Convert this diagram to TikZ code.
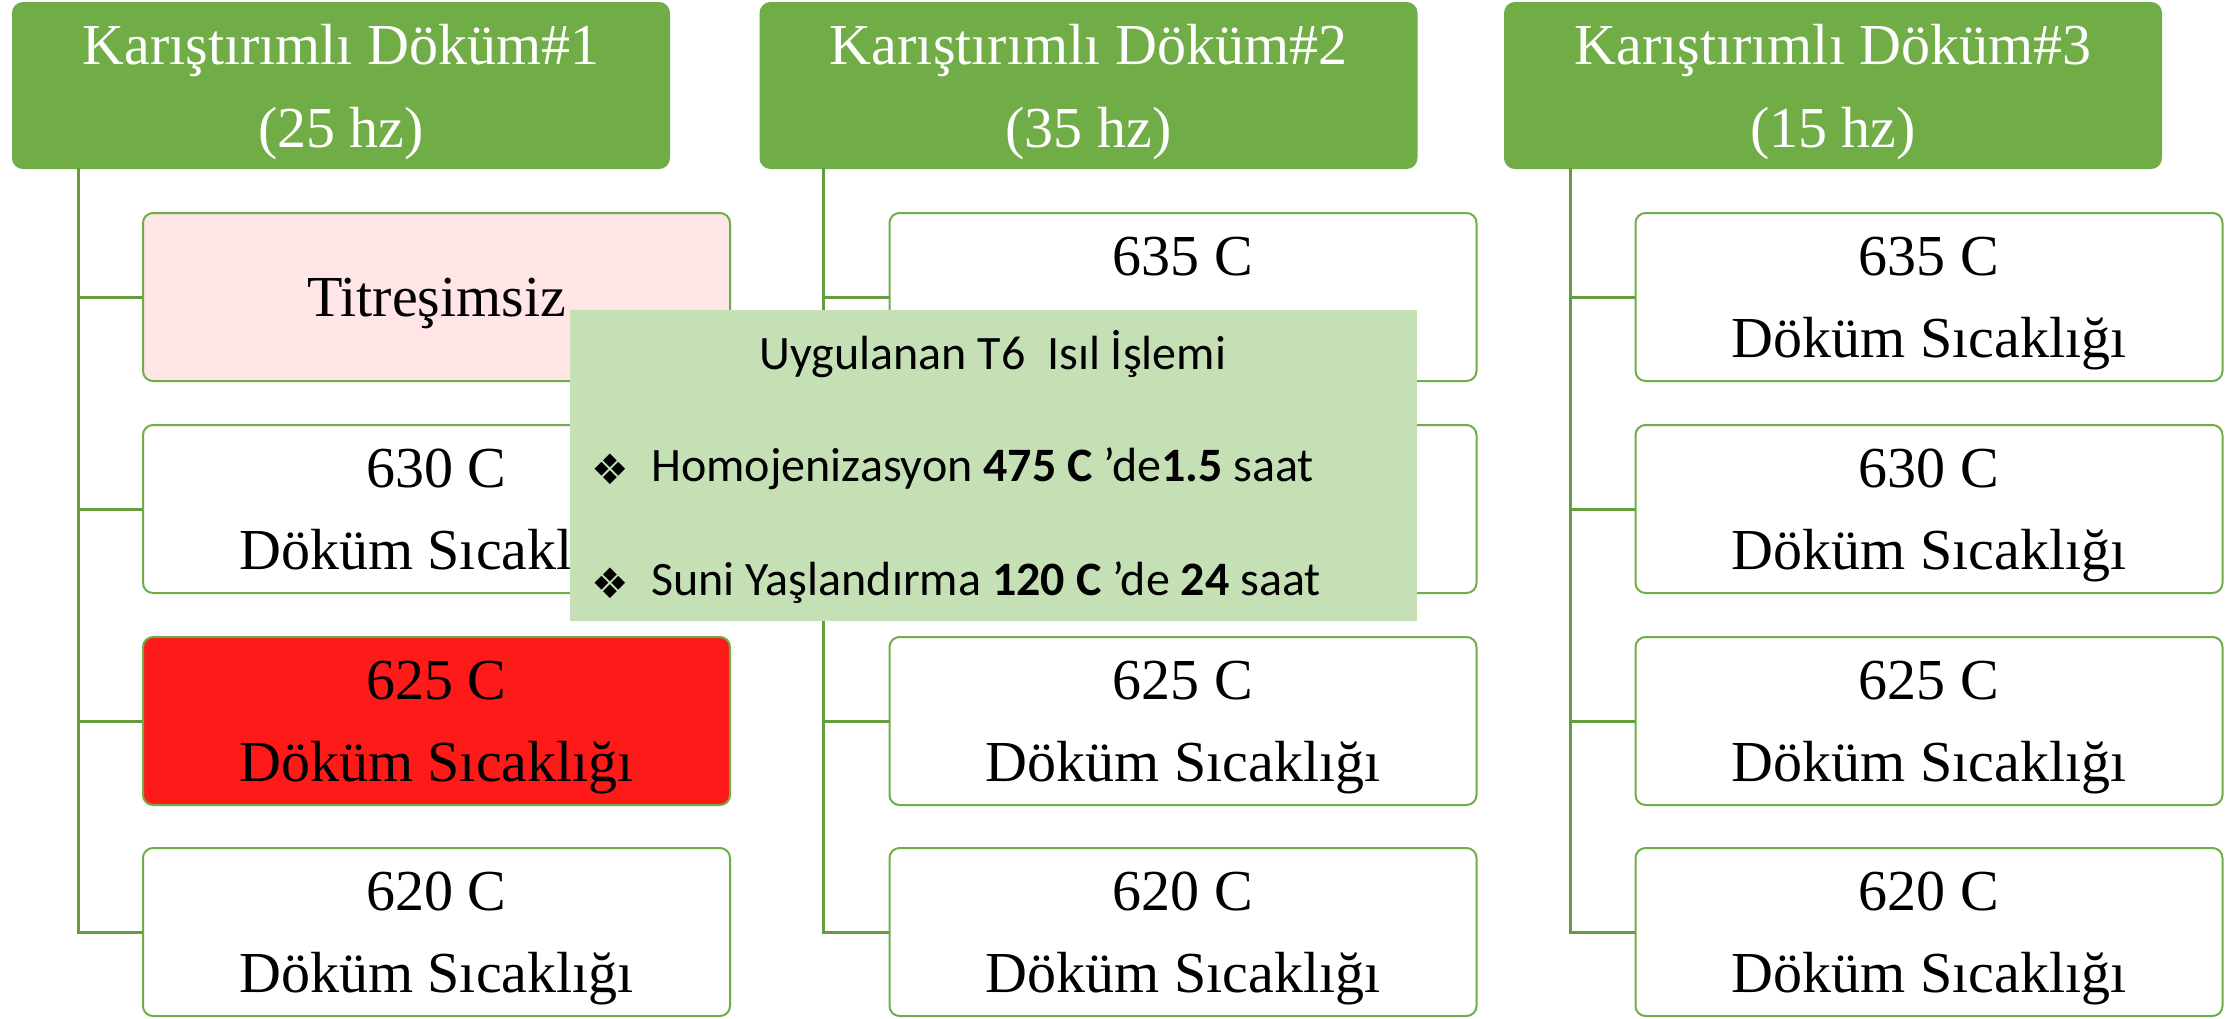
\documentclass[tikz,border=0pt]{standalone}
\usepackage{fontspec}
\setmainfont{Liberation Serif}
\newfontfamily\calib{Carlito}
\newfontfamily\dejavu{DejaVu Sans}
\definecolor{hgreen}{HTML}{70AD47}
\definecolor{bgreen}{HTML}{70AD47}
\definecolor{lgreen}{HTML}{659C40}
\definecolor{pinkfill}{HTML}{FFE5E5}
\definecolor{redfill}{HTML}{FF1A1A}
\definecolor{ovgreen}{HTML}{C5E0B4}
\begin{document}
\begin{tikzpicture}[x=0.5pt,y=-0.5pt,
  hdr/.style={rectangle, rounded corners=5pt, fill=hgreen, draw=hgreen, line width=1pt,
    minimum width=328pt, minimum height=82.5pt, inner sep=0pt, text=white, align=center,
    text depth=0pt, font=\fontsize{29}{41.5}\selectfont},
  cbox/.style={rectangle, rounded corners=5pt, fill=white, draw=bgreen, line width=1pt,
    minimum width=293.5pt, minimum height=84pt, inner sep=0pt, align=center,
    text depth=0pt, font=\fontsize{29}{41}\selectfont},
  conn/.style={draw=lgreen, line width=1.5pt},
  ovbox/.style={rectangle, fill=ovgreen, draw=none, minimum width=423.5pt, minimum height=155.5pt, inner sep=0pt},
  ovtext/.style={font=\calib\fontsize{24}{28}\selectfont, inner sep=0pt},
  bul/.style={font=\dejavu\fontsize{21}{24}\selectfont, inner sep=0pt}
]
\useasboundingbox (0,0) rectangle (2228,1018);

% headers
\node[hdr] (h1) at (341,85.5) {Karıştırımlı Döküm\#1\\(25 hz)};
\node[hdr] (h2) at (1088.5,85.5) {Karıştırımlı Döküm\#2\\(35 hz)};
\node[hdr] (h3) at (1833,85.5) {Karıştırımlı Döküm\#3\\(15 hz)};

% child boxes column 1
\node[cbox, fill=pinkfill] (a1) at (436.5,297) {Titreşimsiz};
\node[cbox] (a2) at (436.5,509) {630 C\\Döküm Sıcaklığı};
\node[cbox, fill=redfill] (a3) at (436.5,721) {625 C\\Döküm Sıcaklığı};
\node[cbox] (a4) at (436.5,932) {620 C\\Döküm Sıcaklığı};
% column 2
\node[cbox] (b1) at (1183,297) {635 C\\Döküm Sıcaklığı};
\node[cbox] (b2) at (1183,509) {630 C\\Döküm Sıcaklığı};
\node[cbox] (b3) at (1183,721) {625 C\\Döküm Sıcaklığı};
\node[cbox] (b4) at (1183,932) {620 C\\Döküm Sıcaklığı};
% column 3
\node[cbox] (c1) at (1929,297) {635 C\\Döküm Sıcaklığı};
\node[cbox] (c2) at (1929,509) {630 C\\Döküm Sıcaklığı};
\node[cbox] (c3) at (1929,721) {625 C\\Döküm Sıcaklığı};
\node[cbox] (c4) at (1929,932) {620 C\\Döküm Sıcaklığı};

% connectors
\coordinate (v1) at (78,168);
\coordinate (v2) at (823,168);
\coordinate (v3) at (1570,168);
\draw[conn] (v1) |- (a4.west);
\draw[conn] (v1 |- a1.west) -- (a1.west);
\draw[conn] (v1 |- a2.west) -- (a2.west);
\draw[conn] (v1 |- a3.west) -- (a3.west);
\draw[conn] (v2) |- (b4.west);
\draw[conn] (v2 |- b1.west) -- (b1.west);
\draw[conn] (v2 |- b2.west) -- (b2.west);
\draw[conn] (v2 |- b3.west) -- (b3.west);
\draw[conn] (v3) |- (c4.west);
\draw[conn] (v3 |- c1.west) -- (c1.west);
\draw[conn] (v3 |- c2.west) -- (c2.west);
\draw[conn] (v3 |- c3.west) -- (c3.west);

% overlay
\node[ovbox] (ov) at (993.5,465.5) {};
\node[ovtext] (ot) at (993,354) {Uygulanan T6\ \ Isıl İşlemi};
\node[bul] (s1) at (610,469) {❖};
\node[ovtext, anchor=west] (t1) at (651,469) {Homojenizasyon \textbf{475 C} ’de\textbf{1.5} saat};
\node[bul] (s2) at (610,583) {❖};
\node[ovtext, anchor=west] (t2) at (651,583) {Suni Yaşlandırma \textbf{120 C} ’de \textbf{24} saat};
\end{tikzpicture}
\end{document}
